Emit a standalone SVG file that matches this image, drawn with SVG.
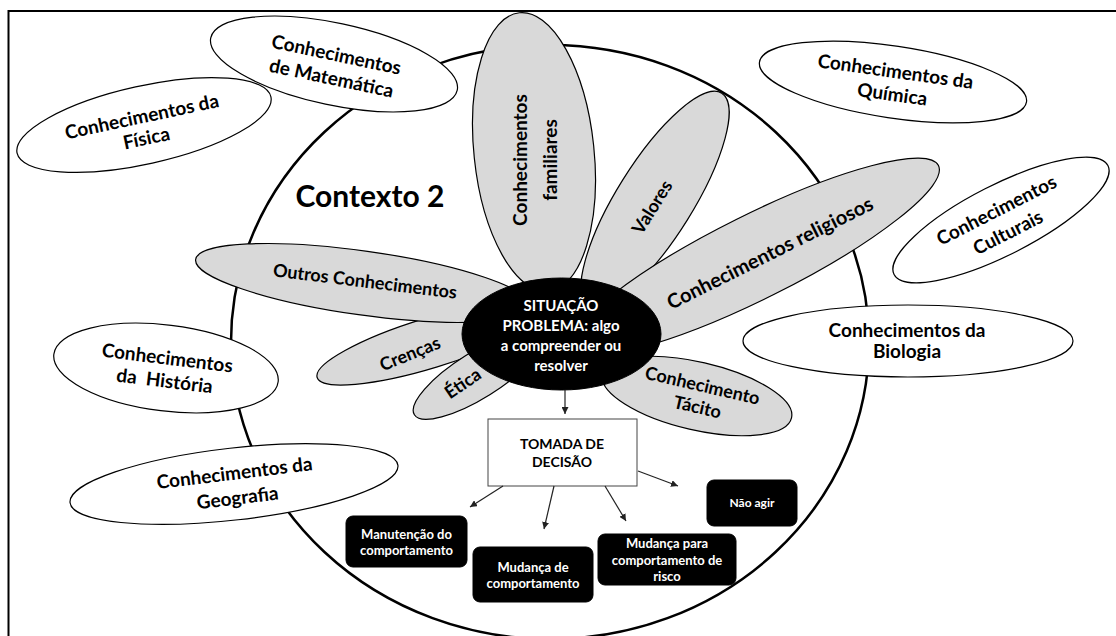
<svg xmlns="http://www.w3.org/2000/svg" width="1116" height="636" viewBox="0 0 1116 636">
<style>
.w{fill:#fff;stroke:#000;stroke-width:1.2}
.g{fill:#d9d9d9;stroke:#000;stroke-width:1.2}
text{font-family:Lato,"Open Sans","Liberation Sans",sans-serif;font-weight:bold;text-anchor:middle;fill:#000}
.t19{font-size:19px}
.t18{font-size:18px}
.t20{font-size:20px}
.wt{fill:#fff}
.c{fill:none;stroke:#222;stroke-width:1.2}
.box{fill:#000;stroke:#000}
</style>
<defs>
<marker id="ah" viewBox="0 0 10 10" refX="10" refY="5" markerWidth="7" markerHeight="7" markerUnits="userSpaceOnUse" orient="auto"><path d="M0,0 L10,5 L0,10 z" fill="#222"/></marker>
</defs>
<rect width="1116" height="636" fill="#fff"/>
<rect id="frame" x="8.5" y="11" width="1120" height="640" fill="none" stroke="#000" stroke-width="2"/>
<g id="contexto">
<ellipse cx="550" cy="342" rx="319" ry="297" fill="#fff" stroke="#000" stroke-width="2.5"/>
<text x="370" y="207" style="font-size:30px">Contexto 2</text>
</g>
<g id="fisica">
<ellipse cx="144" cy="125" rx="130" ry="39" transform="rotate(-12.5 144 125)" class="w"/>
<text class="t19" transform="translate(144 127) rotate(-12)"><tspan x="0" y="-4">Conhecimentos da</tspan><tspan x="0" y="18">Física</tspan></text>
</g>
<g id="matematica">
<ellipse cx="334" cy="64" rx="126" ry="41" transform="rotate(12 334 64)" class="w"/>
<text class="t19" transform="translate(334 66) rotate(12)"><tspan x="0" y="-5">Conhecimentos</tspan><tspan x="0" y="19">de Matemática</tspan></text>
</g>
<g id="quimica">
<ellipse cx="893" cy="82" rx="135" ry="36" transform="rotate(8.5 893 82)" class="w"/>
<text class="t19" transform="translate(894 82.5) rotate(8)"><tspan x="0" y="-4.5">Conhecimentos da</tspan><tspan x="0" y="18.5">Química</tspan></text>
</g>
<g id="culturais">
<ellipse cx="1001" cy="220" rx="120" ry="35" transform="rotate(-27 1001 220)" class="w"/>
<text class="t19" transform="translate(1002 221) rotate(-27)"><tspan x="0" y="-5.5">Conhecimentos</tspan><tspan x="0" y="19.5">Culturais</tspan></text>
</g>
<g id="biologia">
<ellipse cx="908" cy="341" rx="165" ry="36" class="w"/>
<text class="t19"><tspan x="907" y="337">Conhecimentos da</tspan><tspan x="907" y="358">Biologia</tspan></text>
</g>
<g id="historia">
<ellipse cx="166" cy="368" rx="113" ry="43" transform="rotate(7 166 368)" class="w"/>
<text class="t19" transform="translate(166 369) rotate(7)" xml:space="preserve"><tspan x="0" y="-4.5">Conhecimentos</tspan><tspan x="0" y="18.5">da  História</tspan></text>
</g>
<g id="geografia">
<ellipse cx="234" cy="484" rx="165" ry="36" transform="rotate(-6.5 234 484)" class="w"/>
<text class="t19" transform="translate(236 485) rotate(-7)"><tspan x="0" y="-5.5">Conhecimentos da</tspan><tspan x="0" y="19.5">Geografia</tspan></text>
</g>
<g id="familiares">
<ellipse cx="534" cy="152" rx="60" ry="140" transform="rotate(-6 534 152)" class="g"/>
<text class="t19" transform="translate(534 160) rotate(-90)"><tspan x="0" y="-7">Conhecimentos</tspan><tspan x="0" y="23">familiares</tspan></text>
</g>
<g id="valores">
<ellipse cx="655" cy="200" rx="126" ry="38" transform="rotate(-58 655 200)" class="g"/>
<text class="t18" transform="translate(652 207) rotate(-58)" y="6.5">Valores</text>
</g>
<g id="religiosos">
<ellipse cx="755" cy="257" rx="205" ry="42" transform="rotate(-26.5 755 257)" class="g"/>
<text class="t20" transform="translate(770 253) rotate(-26.5)" y="7">Conhecimentos religiosos</text>
</g>
<g id="crencas">
<ellipse cx="430" cy="343" rx="118" ry="25" transform="rotate(-17 430 343)" class="g"/>
<text class="t18" transform="translate(410 354) rotate(-22)" y="6">Crenças</text>
</g>
<g id="outros">
<ellipse cx="363" cy="283" rx="169" ry="32" transform="rotate(8 363 283)" class="g"/>
<text class="t18" transform="translate(365 281.5) rotate(7)" y="6">Outros Conhecimentos</text>
</g>
<g id="etica">
<ellipse cx="478" cy="375" rx="75" ry="23" transform="rotate(-32 478 375)" class="g"/>
<text class="t18" transform="translate(463 383.5) rotate(-34)" y="6">Ética</text>
</g>
<g id="tacito">
<ellipse cx="697" cy="396" rx="97" ry="34" transform="rotate(13 697 396)" class="g"/>
<text class="t18" transform="translate(700 396) rotate(13)"><tspan x="0" y="-4.5">Conhecimento</tspan><tspan x="0" y="17.5">Tácito</tspan></text>
</g>
<g id="situacao">
<ellipse cx="561.5" cy="334" rx="99.5" ry="56" fill="#000" stroke="#000"/>
<text class="wt" style="font-size:15px"><tspan x="561" y="311">SITUAÇÃO</tspan><tspan x="561" y="331">PROBLEMA: algo</tspan><tspan x="561" y="351">a compreender ou</tspan><tspan x="561" y="371">resolver</tspan></text>
</g>
<g id="decisao">
<rect x="488" y="419" width="149" height="67" fill="#fff" stroke="#444" stroke-width="1"/>
<text style="font-size:14px"><tspan x="562" y="449">TOMADA DE</tspan><tspan x="562" y="467">DECISÃO</tspan></text>
</g>
<g id="connectors">
<line class="c" x1="565" y1="390" x2="565" y2="414" marker-end="url(#ah)"/>
<line class="c" x1="503" y1="486" x2="470" y2="507" marker-end="url(#ah)"/>
<line class="c" x1="554" y1="486" x2="544" y2="529" marker-end="url(#ah)"/>
<line class="c" x1="605" y1="486" x2="626" y2="521" marker-end="url(#ah)"/>
<line class="c" x1="638" y1="471" x2="678" y2="486" marker-end="url(#ah)"/>
</g>
<g id="manutencao">
<rect class="box" x="346" y="516" width="121" height="51" rx="7"/>
<text class="wt" style="font-size:13px"><tspan x="406.5" y="539">Manutenção do</tspan><tspan x="406.5" y="555">comportamento</tspan></text>
</g>
<g id="mudanca">
<rect class="box" x="473" y="547" width="120" height="55" rx="7"/>
<text class="wt" style="font-size:13px"><tspan x="533" y="572">Mudança de</tspan><tspan x="533" y="588">comportamento</tspan></text>
</g>
<g id="risco">
<rect class="box" x="598" y="534" width="138" height="51" rx="7"/>
<text class="wt" style="font-size:13px"><tspan x="667" y="548">Mudança para</tspan><tspan x="667" y="565">comportamento de</tspan><tspan x="667" y="581">risco</tspan></text>
</g>
<g id="naoagir">
<rect class="box" x="707" y="480" width="90" height="46" rx="7"/>
<text class="wt" style="font-size:12px" x="752" y="507">Não agir</text>
</g>
</svg>
